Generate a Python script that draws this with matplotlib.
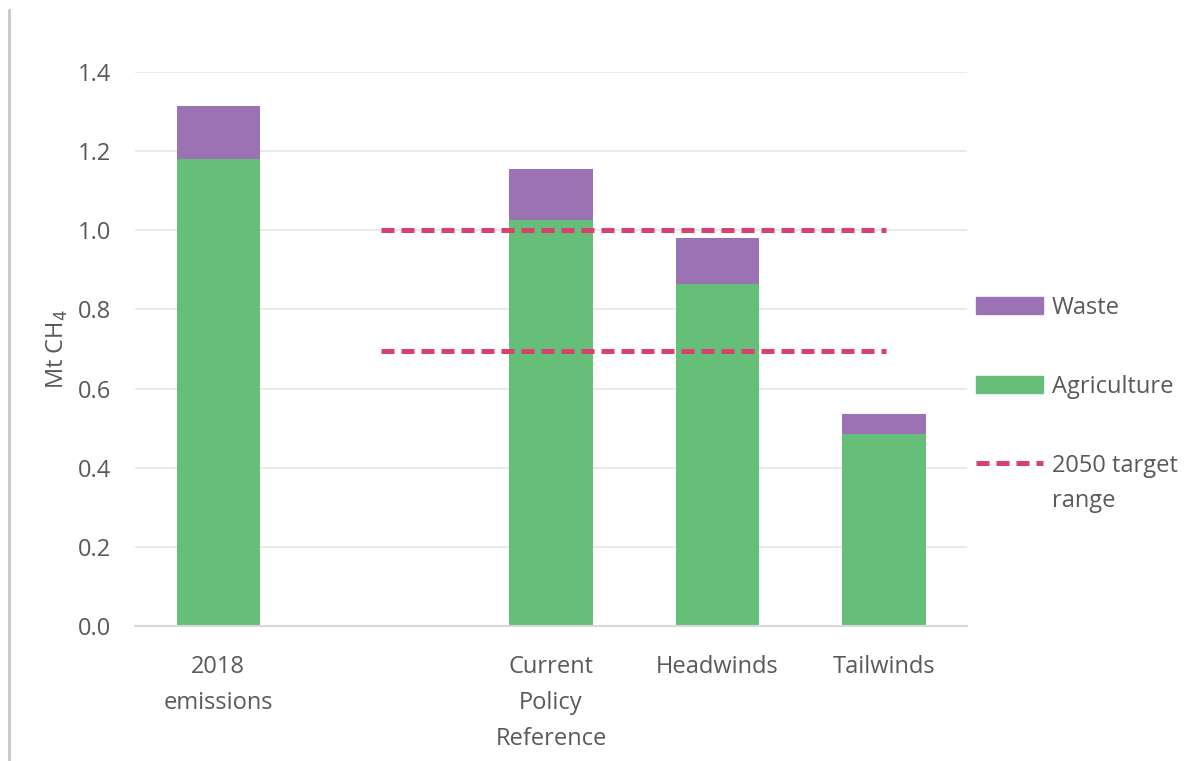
import matplotlib
matplotlib.use("Agg")
import matplotlib.pyplot as plt
from matplotlib.patches import Patch
from matplotlib.lines import Line2D

plt.rcParams['font.family'] = ['Open Sans', 'DejaVu Sans']

categories = ["2018\nemissions", "", "Current\nPolicy\nReference", "Headwinds", "Tailwinds"]
agriculture = [1.18, 0.0, 1.025, 0.865, 0.485]
waste = [0.135, 0.0, 0.13, 0.115, 0.05]
target_range = [1.0, 0.695]

green = "#66bf78"
purple = "#9b73b4"
pink = "#d9406e"
text_col = "#595959"
grid_col = "#e6e6e6"
dash = (0, (2.6, 1.4))
fs = 17

fig = plt.figure(figsize=(11.99, 7.61), dpi=100)
ax = fig.add_axes([0.1126, 0.1774, 0.694, 0.728])

x = list(range(len(categories)))
ax.bar(x, agriculture, width=0.5, color=green, zorder=2)
ax.bar(x, waste, width=0.5, bottom=agriculture, color=purple, zorder=2)

for yv in target_range:
    ax.hlines(yv, 0.98, 4.01, colors=pink, linestyles=dash, linewidth=3.6, zorder=3)

ax.set_xlim(-0.5, 4.5)
ax.set_ylim(0, 1.4)
ax.set_yticks([0.0, 0.2, 0.4, 0.6, 0.8, 1.0, 1.2, 1.4])
ax.set_yticklabels([f"{v:.1f}" for v in ax.get_yticks()])
ax.set_xticks(x)
ax.set_xticklabels(categories, linespacing=1.65)
ax.tick_params(axis='both', length=0, labelsize=fs, colors=text_col)
ax.tick_params(axis='y', pad=17)
ax.tick_params(axis='x', pad=21)
ax.yaxis.grid(True, color=grid_col, linewidth=1.2, zorder=0)
ax.set_axisbelow(True)
for s in ["top", "right", "left"]:
    ax.spines[s].set_visible(False)
ax.spines["bottom"].set_color("#d9d9d9")
ax.spines["bottom"].set_linewidth(1.5)

ax.set_ylabel("Mt CH$_4$", fontsize=17, color=text_col, labelpad=6)

handles = [
    Patch(facecolor=purple, edgecolor=purple),
    Patch(facecolor=green, edgecolor=green),
    Line2D([0], [0], color=pink, linestyle=dash, linewidth=3.6),
]
labels = ["Waste", "Agriculture", "2050 target"]
leg = fig.legend(handles, labels, loc="upper left", bbox_to_anchor=(0.814, 0.611),
                 frameon=False, fontsize=fs, handlelength=2.84, handleheight=0.72,
                 handletextpad=0.38, labelspacing=2.32, labelcolor=text_col,
                 borderpad=0, borderaxespad=0)

# second line of the last legend label, set just below its first line
fig.canvas.draw()
bb = leg.get_texts()[2].get_window_extent().transformed(fig.transFigure.inverted())
fig.text(bb.x0, bb.y0 - 0.047, "range", fontsize=fs, color=text_col, ha="left", va="bottom")

# thin frame line at the left edge
fig.add_artist(Line2D([0.0078, 0.0078], [0.0, 0.987], transform=fig.transFigure,
                      color="#c8c8c8", linewidth=2))

fig.savefig("out.png", dpi=100, facecolor="white")
